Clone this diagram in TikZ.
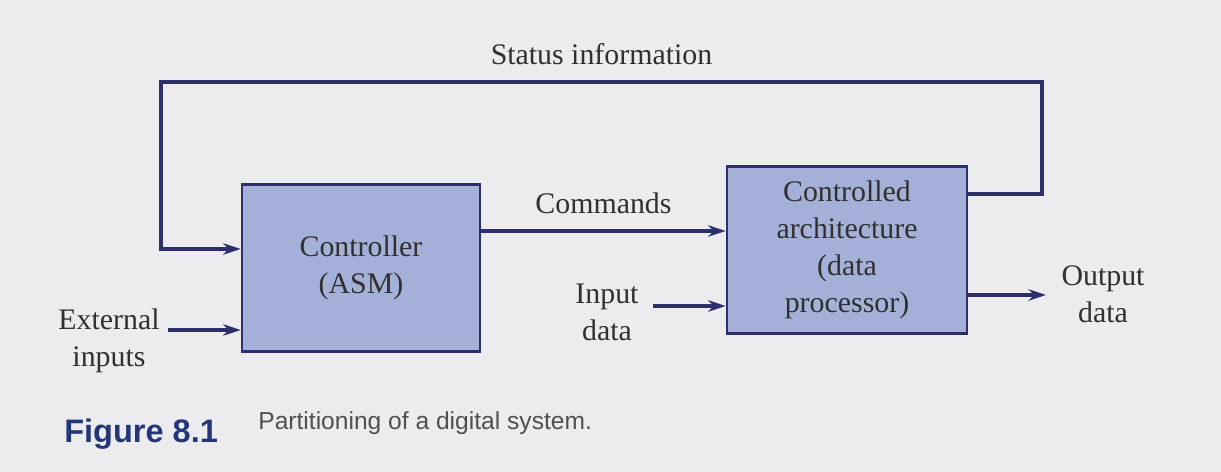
\documentclass[tikz,border=0pt]{standalone}
\usepackage{fontspec}
\setmainfont{Liberation Serif}
\setsansfont{Liberation Sans}
\usetikzlibrary{arrows.meta}
\definecolor{wire}{HTML}{2C2F6C}
\definecolor{blockfill}{HTML}{A5B0D8}
\definecolor{ink}{HTML}{303030}
\definecolor{paper}{HTML}{ECECEE}
\definecolor{figblue}{HTML}{24367A}
\definecolor{capgray}{HTML}{505050}
\begin{document}
\begin{tikzpicture}[x=0.02cm,y=-0.02cm,
  block/.style={draw=wire, line width=1.5pt, fill=blockfill, text=ink,
    align=center, font=\fontsize{17}{21}\selectfont, inner sep=0pt},
  lbl/.style={text=ink, align=center, font=\fontsize{17}{21}\selectfont, inner sep=1pt},
  sig/.style={draw=wire, line width=2.1pt, -{Stealth[length=10pt,width=6.5pt]}}]
  \useasboundingbox[fill=paper] (0,0) rectangle (1221,472);

  % blocks
  \node[block, minimum width=238*0.02cm, minimum height=167*0.02cm] (ctrl) at (361,268)
    {Controller\\(ASM)};
  \node[block, minimum width=240*0.02cm, minimum height=167*0.02cm] (dp) at (847,250)
    {Controlled\\architecture\\(data\\processor)};

  % free ends of the signals
  \coordinate (fbR) at (1042,82);
  \coordinate (fbL) at (161,82);
  \node[lbl] (ext) at (109,341) {External\\inputs};
  \node[lbl] (inp) at (607,312) {Input\\data};
  \node[lbl] (outp) at (1103,294) {Output\\data};

  % commands from controller to data processor
  \draw[sig] (ctrl.east |- 0,231) -- node[lbl, above=8pt] (cmd) {Commands} (dp.west |- 0,231);

  % status feedback loop
  \draw[sig] (dp.east |- 0,194) -| (fbR) -- node[lbl, above=8pt, pos=0.5] (stat) {Status information} (fbL) |- (ctrl.west |- 0,249);

  % inputs and outputs
  \draw[sig] (168,330) -- (ctrl.west |- 0,330);
  \draw[sig] (653,306) -- (dp.west |- 0,306);
  \draw[sig] (dp.east |- 0,295) -- (1046,295);

  % caption
  \node[anchor=base west, inner sep=0pt, text=figblue, font=\sffamily\bfseries\fontsize{18.5}{20}\selectfont] (fig) at (64,443) {Figure 8.1};
  \node[anchor=base west, inner sep=0pt, text=capgray, font=\sffamily\fontsize{14}{16}\selectfont] (cap) at (258,430) {Partitioning of a digital system.};
\end{tikzpicture}
\end{document}
